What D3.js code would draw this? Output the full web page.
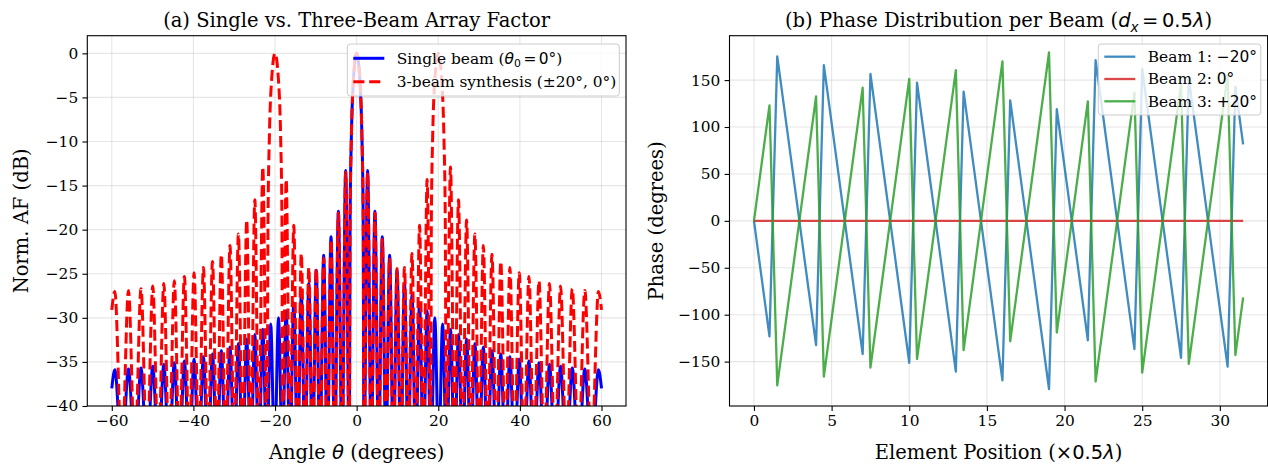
<!DOCTYPE html>
<html>
<head>
<meta charset="utf-8">
<script src="https://cdn.jsdelivr.net/npm/d3@7"></script>
<style>
  body { margin: 0; background: #fff; }
  text { font-family: "DejaVu Serif", serif; fill: #000; }
</style>
</head>
<body>
<svg id="fig" width="1268" height="467"></svg>
<script>
// ---- data ----
// panel (a): lobe peaks and nulls, [angle in degrees, normalised AF in dB]
// nulls sit below the -40 dB floor so they get clipped like the original
const singleBeam = [
  [-60, -38.0], [-59.25, -35.9], [-57.54, -46], [-55.91, -35.8], [-54.34, -46], [-52.84, -35.7],
  [-51.38, -46], [-49.96, -35.5], [-48.59, -46], [-47.25, -35.3], [-45.95, -46], [-44.68, -35.1],
  [-43.43, -46], [-42.21, -34.9], [-41.01, -46], [-39.84, -34.7], [-38.68, -46], [-37.55, -34.4],
  [-36.42, -46], [-35.32, -34.1], [-34.23, -46], [-33.16, -33.7], [-32.09, -46], [-31.04, -33.3],
  [-30.00, -46], [-28.97, -32.9], [-27.95, -46], [-26.94, -32.4], [-25.94, -46], [-24.95, -31.9],
  [-23.97, -46], [-23.00, -31.3], [-22.02, -46], [-21.06, -30.7], [-20.11, -46], [-19.15, -30.0],
  [-18.21, -46], [-17.27, -29.2], [-16.34, -46], [-15.41, -28.3], [-14.48, -46], [-13.56, -27.3],
  [-12.64, -46], [-11.72, -26.1], [-10.81, -46], [-9.90, -24.6], [-8.99, -46], [-8.08, -22.9],
  [-7.18, -46], [-6.28, -20.8], [-5.38, -46], [-4.48, -17.9], [-3.58, -46], [-2.69, -13.3],
  [-1.79, -46], [-1.6, -18.6], [-1.3, -9.6], [-0.8, -3.1], [0, 0], [0.8, -3.1], [1.3, -9.6],
  [1.6, -18.6], [1.79, -46], [2.69, -13.3], [3.58, -46], [4.48, -17.9], [5.38, -46], [6.28, -20.8],
  [7.18, -46], [8.08, -22.9], [8.99, -46], [9.90, -24.6], [10.81, -46], [11.72, -26.1], [12.64, -46],
  [13.56, -27.3], [14.48, -46], [15.41, -28.3], [16.34, -46], [17.27, -29.2], [18.21, -46],
  [19.15, -30.0], [20.11, -46], [21.06, -30.7], [22.02, -46], [23.00, -31.3], [23.97, -46],
  [24.95, -31.9], [25.94, -46], [26.94, -32.4], [27.95, -46], [28.97, -32.9], [30.00, -46],
  [31.04, -33.3], [32.09, -46], [33.16, -33.7], [34.23, -46], [35.32, -34.1], [36.42, -46],
  [37.55, -34.4], [38.68, -46], [39.84, -34.7], [41.01, -46], [42.21, -34.9], [43.43, -46],
  [44.68, -35.1], [45.95, -46], [47.25, -35.3], [48.59, -46], [49.96, -35.5], [51.38, -46],
  [52.84, -35.7], [54.34, -46], [55.91, -35.8], [57.54, -46], [59.25, -35.9], [60, -38.0]
];
const threeBeam = [
  [-60, -29.1], [-59.25, -27.0], [-57.54, -46], [-55.91, -26.9], [-54.34, -46], [-52.84, -26.7],
  [-51.38, -46], [-49.96, -26.4], [-48.59, -46], [-47.25, -26.1], [-45.95, -46], [-44.68, -25.8],
  [-43.43, -46], [-42.21, -25.3], [-41.01, -46], [-39.84, -24.9], [-38.68, -46], [-37.55, -24.3],
  [-36.42, -46], [-35.32, -23.6], [-34.23, -46], [-33.16, -22.8], [-32.09, -46], [-31.04, -21.8],
  [-30.00, -46], [-28.97, -20.5], [-27.95, -46], [-26.94, -18.9], [-25.94, -46], [-24.95, -16.6],
  [-23.97, -46], [-23.00, -12.9], [-21.97, -46], [-21.71, -18.6], [-21.39, -9.6], [-20.85, -3.1],
  [-20, 0], [-19.15, -3.1], [-18.62, -9.6], [-18.31, -18.6], [-18.16, -46], [-17.27, -14.3],
  [-16.34, -46], [-15.41, -19.5], [-14.48, -46], [-13.56, -22.7], [-12.64, -46], [-11.72, -24.3],
  [-10.81, -46], [-9.90, -24.4], [-8.99, -46], [-8.08, -23.2], [-7.18, -46], [-6.28, -21.1],
  [-5.38, -46], [-4.48, -18.1], [-3.58, -46], [-2.69, -13.5], [-1.79, -46], [-1.6, -18.6],
  [-1.3, -9.6], [-0.8, -3.1], [0, 0], [0.8, -3.1], [1.3, -9.6], [1.6, -18.6], [1.79, -46],
  [2.69, -13.5], [3.58, -46], [4.48, -18.1], [5.38, -46], [6.28, -21.1], [7.18, -46], [8.08, -23.2],
  [8.99, -46], [9.90, -24.4], [10.81, -46], [11.72, -24.3], [12.64, -46], [13.56, -22.7],
  [14.48, -46], [15.41, -19.5], [16.34, -46], [17.27, -14.3], [18.16, -46], [18.31, -18.6],
  [18.62, -9.6], [19.15, -3.1], [20, 0], [20.85, -3.1], [21.39, -9.6], [21.71, -18.6], [21.97, -46],
  [23.00, -12.9], [23.97, -46], [24.95, -16.6], [25.94, -46], [26.94, -18.9], [27.95, -46],
  [28.97, -20.5], [30.00, -46], [31.04, -21.8], [32.09, -46], [33.16, -22.8], [34.23, -46],
  [35.32, -23.6], [36.42, -46], [37.55, -24.3], [38.68, -46], [39.84, -24.9], [41.01, -46],
  [42.21, -25.3], [43.43, -46], [44.68, -25.8], [45.95, -46], [47.25, -26.1], [48.59, -46],
  [49.96, -26.4], [51.38, -46], [52.84, -26.7], [54.34, -46], [55.91, -26.9], [57.54, -46],
  [59.25, -27.0], [60, -29.1]
];

// panel (b): element positions and phase per element (degrees)
const elementPos = [
  0, 0.5, 1, 1.5, 2, 2.5, 3, 3.5, 4, 4.5, 5, 5.5, 6, 6.5, 7, 7.5,
  8, 8.5, 9, 9.5, 10, 10.5, 11, 11.5, 12, 12.5, 13, 13.5, 14, 14.5, 15, 15.5,
  16, 16.5, 17, 17.5, 18, 18.5, 19, 19.5, 20, 20.5, 21, 21.5, 22, 22.5, 23, 23.5,
  24, 24.5, 25, 25.5, 26, 26.5, 27, 27.5, 28, 28.5, 29, 29.5, 30, 30.5, 31, 31.5
];
const phaseBeam1 = [
  0, -61.6, -123.1, 175.3, 113.7, 52.2, -9.4, -71.0, -132.5, 165.9, 104.4, 42.8, -18.8, -80.3, -141.9, 156.5,
  95.0, 33.4, -28.2, -89.7, -151.3, 147.2, 85.6, 24.0, -37.5, -99.1, -160.7, 137.8, 76.2, 14.6, -46.9, -108.5,
  -170.0, 128.4, 66.8, 5.3, -56.3, -117.9, -179.4, 119.0, 57.4, -4.1, -65.7, -127.3, 171.2, 109.6, 48.0, -13.5,
  -75.1, -136.6, 161.8, 100.2, 38.7, -22.9, -84.5, -146.0, 152.4, 90.8, 29.3, -32.3, -93.8, -155.4, 143.0, 81.5
];
const phaseBeam2 = [
  0, 0, 0, 0, 0, 0, 0, 0, 0, 0, 0, 0, 0, 0, 0, 0,
  0, 0, 0, 0, 0, 0, 0, 0, 0, 0, 0, 0, 0, 0, 0, 0,
  0, 0, 0, 0, 0, 0, 0, 0, 0, 0, 0, 0, 0, 0, 0, 0,
  0, 0, 0, 0, 0, 0, 0, 0, 0, 0, 0, 0, 0, 0, 0, 0
];
const phaseBeam3 = [
  0, 61.6, 123.1, -175.3, -113.7, -52.2, 9.4, 71.0, 132.5, -165.9, -104.4, -42.8, 18.8, 80.3, 141.9, -156.5,
  -95.0, -33.4, 28.2, 89.7, 151.3, -147.2, -85.6, -24.0, 37.5, 99.1, 160.7, -137.8, -76.2, -14.6, 46.9, 108.5,
  170.0, -128.4, -66.8, -5.3, 56.3, 117.9, 179.4, -119.0, -57.4, 4.1, 65.7, 127.3, -171.2, -109.6, -48.0, 13.5,
  75.1, 136.6, -161.8, -100.2, -38.7, 22.9, 84.5, 146.0, -152.4, -90.8, -29.3, 32.3, 93.8, 155.4, -143.0, -81.5
];

const angleTicks = [-60, -40, -20, 0, 20, 40, 60];
const dbTicks = [-40, -35, -30, -25, -20, -15, -10, -5, 0];
const posTicks = [0, 5, 10, 15, 20, 25, 30];
const phaseTicks = [-150, -100, -50, 0, 50, 100, 150];

// ---- layout ----
const svg = d3.select('#fig');
svg.append('rect').attr('width', 1268).attr('height', 467).attr('fill', '#fff');

const plotTop = 35.7, plotBottom = 406;
const boxA = { left: 87.3, right: 626 };
const boxB = { left: 729.5, right: 1267.6 };
const tickFont = 15.4, labelFont = 19.5;

const fmt = v => (v < 0 ? '\u2212' + Math.abs(v) : '' + v);

// write a label made of serif text and mathtext-like pieces
function rich(textSel, parts) {
  let shift = 0;
  parts.forEach(p => {
    const ts = textSel.append('tspan').text(p.t);
    if (p.math) ts.attr('font-family', 'DejaVu Sans');
    if (p.it) ts.attr('font-style', 'italic');
    if (p.dx) ts.attr('dx', p.dx);
    const want = p.sub ? p.sub : 0;
    if (want !== shift) { ts.attr('dy', want - shift); shift = want; }
    if (p.sub) ts.attr('font-size', p.size);
  });
}

function axesFrame(g, x, y, xTicks, yTicks, box, clipId) {
  // grid
  g.append('g').selectAll('line').data(xTicks).join('line')
    .attr('x1', d => x(d)).attr('x2', d => x(d)).attr('y1', plotTop).attr('y2', plotBottom)
    .attr('stroke', '#b0b0b0').attr('stroke-opacity', 0.32).attr('stroke-width', 1.1);
  g.append('g').selectAll('line').data(yTicks).join('line')
    .attr('y1', d => y(d)).attr('y2', d => y(d)).attr('x1', box.left).attr('x2', box.right)
    .attr('stroke', '#b0b0b0').attr('stroke-opacity', 0.32).attr('stroke-width', 1.1);

  svg.append('clipPath').attr('id', clipId).append('rect')
    .attr('x', box.left).attr('y', plotTop).attr('width', box.right - box.left).attr('height', plotBottom - plotTop);
}

function axesDecor(g, x, y, box, xTicks, yTicks) {
  const xa = g.append('g').attr('transform', `translate(0,${plotBottom})`)
    .call(d3.axisBottom(x).tickValues(xTicks).tickFormat(fmt).tickSize(4.9).tickPadding(4.2));
  const ya = g.append('g').attr('transform', `translate(${box.left},0)`)
    .call(d3.axisLeft(y).tickValues(yTicks).tickFormat(fmt).tickSize(4.9).tickPadding(4.2));
  [xa, ya].forEach(a => {
    a.select('.domain').remove();
    a.selectAll('line').attr('stroke', '#000').attr('stroke-width', 1.1);
    a.selectAll('text').attr('font-family', 'DejaVu Serif').attr('font-size', tickFont).attr('fill', '#000');
  });
  g.append('rect').attr('x', box.left).attr('y', plotTop)
    .attr('width', box.right - box.left).attr('height', plotBottom - plotTop)
    .attr('fill', 'none').attr('stroke', '#000').attr('stroke-width', 1.1);
}

function legend(g, x0, y0, w, h, rows) {
  g.append('rect').attr('x', x0).attr('y', y0).attr('width', w).attr('height', h)
    .attr('rx', 3).attr('fill', '#fff').attr('fill-opacity', 0.8)
    .attr('stroke', '#cccccc').attr('stroke-width', 1);
  rows.forEach(r => {
    g.append('line').attr('x1', x0 + 6).attr('x2', x0 + 37).attr('y1', r.y).attr('y2', r.y)
      .attr('stroke', r.color).attr('stroke-width', r.width).attr('stroke-opacity', r.opacity || 1)
      .attr('stroke-dasharray', r.dash || null);
    const t = g.append('text').attr('x', x0 + 49.5).attr('y', r.y + 5.4).attr('font-size', tickFont);
    rich(t, r.parts);
  });
}

// ---- panel (a) ----
const xA = d3.scaleLinear().domain([-66, 66]).range([boxA.left, boxA.right]);
const yA = d3.scaleLinear().domain([-40, 2]).range([plotBottom, plotTop]);
const gA = svg.append('g');
axesFrame(gA, xA, yA, angleTicks, dbTicks, boxA, 'clipA');

const lineA = d3.line().x(d => xA(d[0])).y(d => yA(d[1])).curve(d3.curveMonotoneX);
const plotA = gA.append('g').attr('clip-path', 'url(#clipA)');
plotA.append('path').datum(singleBeam).attr('d', lineA)
  .attr('fill', 'none').attr('stroke', '#0000ff').attr('stroke-width', 3).attr('stroke-linejoin', 'round');
plotA.append('path').datum(threeBeam).attr('d', lineA)
  .attr('fill', 'none').attr('stroke', '#ff0000').attr('stroke-width', 3)
  .attr('stroke-dasharray', '11.1,4.8');
axesDecor(gA, xA, yA, boxA, angleTicks, dbTicks);

gA.append('text').attr('x', (boxA.left + boxA.right) / 2).attr('y', 27.4)
  .attr('text-anchor', 'middle').attr('font-size', labelFont)
  .text('(a) Single vs. Three-Beam Array Factor');
rich(gA.append('text').attr('x', (boxA.left + boxA.right) / 2).attr('y', 459)
  .attr('text-anchor', 'middle').attr('font-size', labelFont),
  [{ t: 'Angle ' }, { t: '\u03b8', math: true, it: true }, { t: ' (degrees)' }]);
gA.append('text').attr('transform', `translate(28,${(plotTop + plotBottom) / 2}) rotate(-90)`)
  .attr('text-anchor', 'middle').attr('font-size', labelFont).text('Norm. AF (dB)');

legend(gA, 347.3, 44, 272, 52, [
  { y: 58.3, color: '#0000ff', width: 3, parts: [{ t: 'Single beam (' }, { t: '\u03b8', math: true, it: true },
    { t: '0', math: true, sub: 3.6, size: 10.8 }, { t: '=', math: true, dx: 2.5 }, { t: '0\u00b0', math: true, dx: 2.5 }, { t: ')' }] },
  { y: 81.7, color: '#ff0000', width: 3, dash: '11.1,4.8', parts: [{ t: '3-beam synthesis (\u00b120\u00b0, 0\u00b0)' }] }
]);

// ---- panel (b) ----
const xB = d3.scaleLinear().domain([-1.575, 33.075]).range([boxB.left, boxB.right]);
const yB = d3.scaleLinear().domain([-197.3, 197.3]).range([plotBottom, plotTop]);
const gB = svg.append('g');
axesFrame(gB, xB, yB, posTicks, phaseTicks, boxB, 'clipB');

const beams = [
  { values: phaseBeam1, color: '#1f77b4' },
  { values: phaseBeam2, color: '#d62728' },
  { values: phaseBeam3, color: '#2ca02c' }
];
const plotB = gB.append('g').attr('clip-path', 'url(#clipB)');
beams.forEach(b => {
  const pts = elementPos.map((p, i) => [p, b.values[i]]);
  plotB.append('path').datum(pts)
    .attr('d', d3.line().x(d => xB(d[0])).y(d => yB(d[1])))
    .attr('fill', 'none').attr('stroke', b.color).attr('stroke-opacity', 0.85)
    .attr('stroke-width', 2.3).attr('stroke-linejoin', 'round');
});
axesDecor(gB, xB, yB, boxB, posTicks, phaseTicks);

rich(gB.append('text').attr('x', (boxB.left + boxB.right) / 2).attr('y', 27.4)
  .attr('text-anchor', 'middle').attr('font-size', labelFont),
  [{ t: '(b) Phase Distribution per Beam (' }, { t: 'd', math: true, it: true },
   { t: 'x', math: true, it: true, sub: 4.5, size: 13.6 }, { t: '=', math: true, dx: 3.5 },
   { t: '0.5', math: true, dx: 3.5 }, { t: '\u03bb', math: true, it: true }, { t: ')' }]);
rich(gB.append('text').attr('x', (boxB.left + boxB.right) / 2).attr('y', 459)
  .attr('text-anchor', 'middle').attr('font-size', labelFont),
  [{ t: 'Element Position (' }, { t: '\u00d70.5', math: true }, { t: '\u03bb', math: true, it: true }, { t: ')' }]);
gB.append('text').attr('transform', `translate(663,${(plotTop + plotBottom) / 2}) rotate(-90)`)
  .attr('text-anchor', 'middle').attr('font-size', labelFont).text('Phase (degrees)');

legend(gB, 1098.3, 44, 162.5, 71, [
  { y: 56.7, color: '#1f77b4', width: 2.3, opacity: 0.85, parts: [{ t: 'Beam 1: ' }, { t: '\u221220\u00b0', math: true }] },
  { y: 79.0, color: '#d62728', width: 2.3, opacity: 0.85, parts: [{ t: 'Beam 2: ' }, { t: '0\u00b0', math: true }] },
  { y: 101.3, color: '#2ca02c', width: 2.3, opacity: 0.85, parts: [{ t: 'Beam 3: ' }, { t: '+20\u00b0', math: true }] }
]);
</script>
</body>
</html>
